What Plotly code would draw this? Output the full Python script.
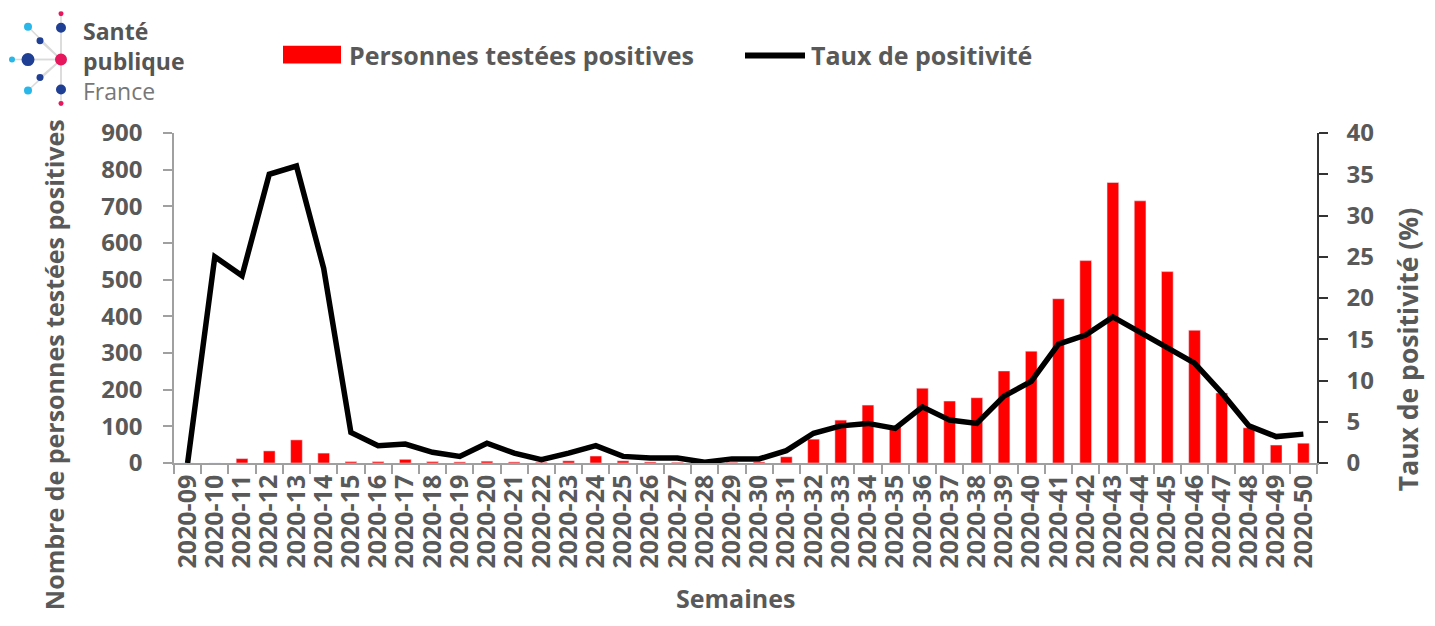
import plotly.graph_objects as go

# Data
semaines = ['2020-%02d' % w for w in range(9, 51)]
positifs = [0, 0, 12, 33, 63, 27, 4, 4, 10, 4, 3, 5, 3, 2, 6, 19, 6, 3, 2, 2, 2, 3,
            17, 65, 117, 158, 100, 204, 169, 178, 251, 305, 448, 552, 765, 715, 522,
            362, 191, 96, 49, 54]
taux = [0, 25.0, 22.7, 35.0, 36.0, 23.6, 3.7, 2.1, 2.3, 1.3, 0.8, 2.4, 1.2, 0.4,
        1.2, 2.1, 0.8, 0.6, 0.6, 0.1, 0.5, 0.5, 1.5, 3.6, 4.5, 4.8, 4.2, 6.8, 5.2,
        4.8, 8.1, 9.9, 14.4, 15.5, 17.7, 15.8, 13.9, 12.1, 8.5, 4.5, 3.2, 3.5]

# page body has an 8px margin: figure is drawn smaller and offset
OFF = 8
W, H = 1435 - 2 * OFF, 626 - 2 * OFF
L, R, T, B = 174, 1317, 132.5, 463   # plot area in page pixels
grey = '#595959'
font = 'Open Sans'

def px(x):
    return (x - L) / (R - L)

def py(y):
    return (B - y) / (B - T)

fig = go.Figure()
fig.add_trace(go.Bar(x=semaines, y=positifs, marker_color='#ff0000',
                     width=0.43, name='Personnes testées positives', showlegend=False))
fig.add_trace(go.Scatter(x=semaines, y=taux, yaxis='y2', mode='lines',
                         line=dict(color='black', width=5.5),
                         name='Taux de positivité', showlegend=False))

yfont = dict(family=font, size=24, color=grey, weight='bold')
xfont = dict(family=font, size=25, color=grey, weight='bold')
fig.update_layout(
    width=W, height=H,
    margin=dict(l=L - OFF, r=W - (R - OFF), t=T - OFF, b=H - (B - OFF)),
    plot_bgcolor='white', paper_bgcolor='white',
    xaxis=dict(type='category', tickangle=-90, tickfont=xfont, automargin=False,
               tickmode='linear', dtick=1,
               showline=True, linecolor='#a0a0a0', linewidth=1.5,
               ticks='outside', tickson='boundaries', ticklen=9, tickcolor='#a0a0a0',
               tickwidth=1.5, showgrid=False),
    yaxis=dict(range=[0, 900], dtick=100, tickfont=yfont, automargin=False,
               showline=True, linecolor='#a0a0a0', linewidth=1.5,
               ticks='outside', ticklen=9, tickcolor='#a0a0a0', tickwidth=1.5,
               showgrid=False, zeroline=False, ticklabelstandoff=16),
    yaxis2=dict(range=[0, 40], dtick=5, overlaying='y', side='right', tickfont=yfont,
                automargin=False, showline=True, linecolor='#333333', linewidth=1.5,
                ticks='outside', ticklen=9, tickcolor='#333333', tickwidth=1.5,
                showgrid=False, zeroline=False, ticklabelstandoff=14),
)

titlefont = dict(family=font, size=25, color=grey, weight='bold')
annotations = [
    dict(text='Nombre de personnes testées positives', xref='paper', yref='paper',
         x=px(54), y=py(365), textangle=-90, xanchor='center', yanchor='middle',
         showarrow=False, font=titlefont),
    dict(text='Taux de positivité (%)', xref='paper', yref='paper',
         x=px(1408), y=py(350), textangle=-90, xanchor='center', yanchor='middle',
         showarrow=False, font=dict(family=font, size=26.5, color=grey, weight='bold')),
    dict(text='Semaines', xref='paper', yref='paper', x=px(735), y=py(617),
         xanchor='center', yanchor='bottom', showarrow=False, font=titlefont),
]

# custom legend
shapes = [
    dict(type='rect', xref='paper', yref='paper', x0=px(283), x1=px(341), y0=py(63), y1=py(45),
         fillcolor='#ff0000', line=dict(width=0)),
    dict(type='line', xref='paper', yref='paper', x0=px(745), x1=px(805), y0=py(55), y1=py(55),
         line=dict(color='black', width=6)),
]
annotations += [
    dict(text='Personnes testées positives', xref='paper', yref='paper', x=px(347), y=py(54),
         xanchor='left', yanchor='middle', showarrow=False, font=titlefont),
    dict(text='Taux de positivité', xref='paper', yref='paper', x=px(809), y=py(54),
         xanchor='left', yanchor='middle', showarrow=False, font=titlefont),
]

# logo
dark, light, pink = '#1f3f94', '#29b6e8', '#e6175c'
dots = [(61, 13, 2.5, pink), (61, 27, 5, dark), (28, 26, 4, light), (40, 40, 3.5, dark),
        (28, 59, 6.5, dark), (12, 59, 3, light), (61, 59, 6, pink), (40, 77, 3.5, dark),
        (28, 90, 4, light), (61, 89, 5, dark), (61, 103, 2.5, pink)]
for (cx, cy, r, c) in dots:
    if (cx, cy) != (61, 59):
        shapes.append(dict(type='line', xref='paper', yref='paper', x0=px(61), y0=py(59),
                           x1=px(cx), y1=py(cy), line=dict(color='#dadada', width=1.5),
                           layer='below'))
for (cx, cy, r, c) in dots:
    shapes.append(dict(type='circle', xref='paper', yref='paper', x0=px(cx - r), x1=px(cx + r),
                       y0=py(cy + r), y1=py(cy - r), fillcolor=c, line=dict(width=0)))
annotations.append(dict(
    text="<b>Santé</b><br><b>publique</b><br><span style='color:#777777'>France</span>",
    xref='paper', yref='paper', x=px(81), y=py(60), xanchor='left', yanchor='middle',
    align='left', showarrow=False, font=dict(family=font, size=23, color='#555555')))

fig.update_layout(shapes=shapes, annotations=annotations)
fig.write_html('out.html')
